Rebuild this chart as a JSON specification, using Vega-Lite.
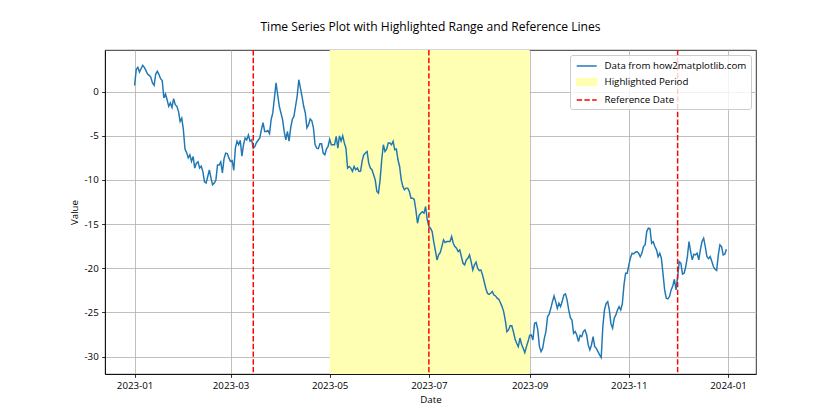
{
  "$schema": "https://vega.github.io/schema/vega-lite/v6.json",
  "width": 651,
  "height": 324,
  "autosize": {"type": "none"},
  "padding": {"left": 105, "top": 50, "right": 84, "bottom": 46},
  "background": "white",
  "title": {"text": "Time Series Plot with Highlighted Range and Reference Lines", "fontSize": 12.1, "font": "Open Sans", "fontWeight": "normal", "color": "black", "offset": 6, "anchor": "middle", "frame": "group", "baseline": "alphabetic"},
  "config": {
    "font": "Open Sans",
    "view": {"stroke": "black", "strokeWidth": 0.8},
    "axis": {"zindex": 1, "domainColor": "black", "domainWidth": 0.8, "gridColor": "#b0b0b0", "gridWidth": 0.8, "gridOpacity": 1, "tickColor": "black", "tickWidth": 0.8, "tickSize": 3.4, "labelFont": "Open Sans", "labelFontSize": 9.72, "labelColor": "black", "labelPadding": 3.4, "titleFont": "Open Sans", "titleFontSize": 9.72, "titleFontWeight": "normal", "titleColor": "black", "titlePadding": 4, "labelFlush": false, "labelOverlap": false},
    "legend": {
      "orient": "top-right", "offset": 5, "padding": 4, "rowPadding": 4, "symbolSize": 144, "labelOffset": 16.5,
      "labelFont": "Open Sans", "labelFontSize": 9.72, "labelColor": "black",
      "strokeColor": "#cccccc", "fillColor": "rgba(255,255,255,0.8)", "cornerRadius": 2.5,
      "symbolType": "M-0.72,0H2.61", "symbolOpacity": 1, "symbolStrokeWidth": 1.46
    }
  },
  "layer": [
    {
      "data": {"values": [{"start": "2023-05-01", "end": "2023-09-01", "series": "Highlighted Period"}], "format": {"parse": {"start": "date:'%Y-%m-%d'", "end": "date:'%Y-%m-%d'"}}},
      "mark": {"type": "rect"},
      "encoding": {
        "x": {"field": "start", "type": "temporal", "title": "Date",
          "scale": {"domain": [{"year": 2022, "month": 12, "date": 13, "hours": 19, "minutes": 12}, {"year": 2024, "month": 1, "date": 18, "hours": 4, "minutes": 48}]},
          "axis": {"values": [{"year": 2023, "month": 1, "date": 1}, {"year": 2023, "month": 3, "date": 1}, {"year": 2023, "month": 5, "date": 1}, {"year": 2023, "month": 7, "date": 1}, {"year": 2023, "month": 9, "date": 1}, {"year": 2023, "month": 11, "date": 1}, {"year": 2024, "month": 1, "date": 1}], "format": "%Y-%m", "labelAngle": 0}},
        "x2": {"field": "end"},
        "color": {"field": "series", "type": "nominal",
          "scale": {"domain": ["Data from how2matplotlib.com", "Highlighted Period", "Reference Date"], "range": ["#1f77b4", "#ffffb3", "#ff0000"]},
          "legend": {"title": null}}
      }
    },
    {
      "data": {"values": [
{"date":"2023-01-01","value":0.7},{"date":"2023-01-02","value":2.5},{"date":"2023-01-03","value":2.76},{"date":"2023-01-04","value":2.23},{"date":"2023-01-06","value":2.99},{"date":"2023-01-07","value":2.76},{"date":"2023-01-08","value":2.38},{"date":"2023-01-09","value":2.0},{"date":"2023-01-10","value":1.85},{"date":"2023-01-11","value":1.62},{"date":"2023-01-12","value":0.98},{"date":"2023-01-13","value":0.72},{"date":"2023-01-14","value":2.0},{"date":"2023-01-15","value":2.3},{"date":"2023-01-16","value":1.93},{"date":"2023-01-17","value":1.47},{"date":"2023-01-18","value":1.25},{"date":"2023-01-19","value":-0.72},{"date":"2023-01-20","value":-0.26},{"date":"2023-01-21","value":-0.91},{"date":"2023-01-22","value":-1.66},{"date":"2023-01-23","value":-1.28},{"date":"2023-01-24","value":-1.78},{"date":"2023-01-25","value":-0.79},{"date":"2023-01-26","value":-1.47},{"date":"2023-01-27","value":-1.66},{"date":"2023-01-28","value":-2.23},{"date":"2023-01-29","value":-3.36},{"date":"2023-01-30","value":-3.0},{"date":"2023-01-31","value":-4.3},
{"date":"2023-02-01","value":-6.5},{"date":"2023-02-02","value":-6.9},{"date":"2023-02-03","value":-7.5},{"date":"2023-02-04","value":-7.15},{"date":"2023-02-05","value":-7.9},{"date":"2023-02-06","value":-7.35},{"date":"2023-02-07","value":-8.65},{"date":"2023-02-08","value":-8.1},{"date":"2023-02-09","value":-7.95},{"date":"2023-02-10","value":-8.65},{"date":"2023-02-11","value":-8.45},{"date":"2023-02-12","value":-9.05},{"date":"2023-02-13","value":-10.2},{"date":"2023-02-14","value":-10.35},{"date":"2023-02-15","value":-9.6},{"date":"2023-02-16","value":-8.85},{"date":"2023-02-17","value":-9.8},{"date":"2023-02-18","value":-10.55},{"date":"2023-02-19","value":-10.35},{"date":"2023-02-20","value":-10.0},{"date":"2023-02-21","value":-8.3},{"date":"2023-02-22","value":-8.3},{"date":"2023-02-23","value":-7.95},{"date":"2023-02-24","value":-9.2},{"date":"2023-02-25","value":-7.6},{"date":"2023-02-26","value":-6.95},{"date":"2023-02-27","value":-7.0},{"date":"2023-02-28","value":-7.5},
{"date":"2023-03-01","value":-7.9},{"date":"2023-03-02","value":-7.8},{"date":"2023-03-03","value":-8.9},{"date":"2023-03-04","value":-6.4},{"date":"2023-03-05","value":-5.6},{"date":"2023-03-06","value":-6.0},{"date":"2023-03-07","value":-5.5},{"date":"2023-03-08","value":-7.3},{"date":"2023-03-09","value":-6.0},{"date":"2023-03-10","value":-5.25},{"date":"2023-03-11","value":-5.45},{"date":"2023-03-12","value":-4.9},{"date":"2023-03-13","value":-5.6},{"date":"2023-03-14","value":-5.45},{"date":"2023-03-15","value":-6.4},{"date":"2023-03-16","value":-6.2},{"date":"2023-03-17","value":-5.75},{"date":"2023-03-18","value":-5.5},{"date":"2023-03-19","value":-5.25},{"date":"2023-03-20","value":-4.3},{"date":"2023-03-21","value":-3.5},{"date":"2023-03-22","value":-4.5},{"date":"2023-03-23","value":-4.5},{"date":"2023-03-24","value":-4.4},{"date":"2023-03-25","value":-4.75},{"date":"2023-03-26","value":-3.15},{"date":"2023-03-27","value":-2.4},{"date":"2023-03-28","value":-0.7},{"date":"2023-03-29","value":1.0},{"date":"2023-03-30","value":-0.35},{"date":"2023-03-31","value":-1.65},
{"date":"2023-04-01","value":-2.4},{"date":"2023-04-02","value":-3.15},{"date":"2023-04-03","value":-4.5},{"date":"2023-04-04","value":-5.45},{"date":"2023-04-05","value":-4.5},{"date":"2023-04-06","value":-5.6},{"date":"2023-04-07","value":-4.1},{"date":"2023-04-08","value":-3.15},{"date":"2023-04-09","value":-2.8},{"date":"2023-04-10","value":-1.65},{"date":"2023-04-11","value":-0.5},{"date":"2023-04-12","value":1.35},{"date":"2023-04-13","value":0.4},{"date":"2023-04-14","value":-0.55},{"date":"2023-04-15","value":-1.65},{"date":"2023-04-16","value":-2.4},{"date":"2023-04-17","value":-4.1},{"date":"2023-04-18","value":-3.75},{"date":"2023-04-19","value":-3.1},{"date":"2023-04-20","value":-3.3},{"date":"2023-04-21","value":-4.1},{"date":"2023-04-22","value":-6.0},{"date":"2023-04-23","value":-6.4},{"date":"2023-04-24","value":-6.45},{"date":"2023-04-25","value":-5.9},{"date":"2023-04-26","value":-5.9},{"date":"2023-04-27","value":-6.95},{"date":"2023-04-28","value":-7.14},{"date":"2023-04-29","value":-6.5},{"date":"2023-04-30","value":-6.2},
{"date":"2023-05-01","value":-5.4},{"date":"2023-05-02","value":-6.0},{"date":"2023-05-03","value":-6.0},{"date":"2023-05-04","value":-6.0},{"date":"2023-05-05","value":-5.06},{"date":"2023-05-06","value":-6.39},{"date":"2023-05-07","value":-5.0},{"date":"2023-05-08","value":-5.6},{"date":"2023-05-09","value":-5.0},{"date":"2023-05-10","value":-5.8},{"date":"2023-05-11","value":-6.4},{"date":"2023-05-12","value":-8.65},{"date":"2023-05-13","value":-8.47},{"date":"2023-05-14","value":-8.65},{"date":"2023-05-15","value":-9.03},{"date":"2023-05-16","value":-8.47},{"date":"2023-05-17","value":-8.84},{"date":"2023-05-18","value":-8.65},{"date":"2023-05-19","value":-9.03},{"date":"2023-05-20","value":-9.0},{"date":"2023-05-21","value":-7.8},{"date":"2023-05-22","value":-7.14},{"date":"2023-05-23","value":-6.95},{"date":"2023-05-24","value":-6.77},{"date":"2023-05-25","value":-8.09},{"date":"2023-05-26","value":-8.65},{"date":"2023-05-27","value":-8.84},{"date":"2023-05-28","value":-9.41},{"date":"2023-05-29","value":-9.98},{"date":"2023-05-30","value":-11.3},{"date":"2023-05-31","value":-11.49},
{"date":"2023-06-01","value":-9.98},{"date":"2023-06-02","value":-7.71},{"date":"2023-06-03","value":-6.01},{"date":"2023-06-04","value":-6.77},{"date":"2023-06-05","value":-6.5},{"date":"2023-06-06","value":-5.82},{"date":"2023-06-07","value":-5.82},{"date":"2023-06-08","value":-6.01},{"date":"2023-06-09","value":-5.63},{"date":"2023-06-10","value":-6.58},{"date":"2023-06-11","value":-6.5},{"date":"2023-06-12","value":-7.71},{"date":"2023-06-13","value":-8.47},{"date":"2023-06-14","value":-9.98},{"date":"2023-06-15","value":-10.73},{"date":"2023-06-16","value":-11.11},{"date":"2023-06-17","value":-10.92},{"date":"2023-06-18","value":-10.92},{"date":"2023-06-19","value":-11.3},{"date":"2023-06-20","value":-12.06},{"date":"2023-06-21","value":-12.06},{"date":"2023-06-22","value":-12.2},{"date":"2023-06-23","value":-13.4},{"date":"2023-06-24","value":-14.9},{"date":"2023-06-25","value":-14.0},{"date":"2023-06-26","value":-13.76},{"date":"2023-06-27","value":-13.6},{"date":"2023-06-28","value":-13.76},{"date":"2023-06-29","value":-13.0},{"date":"2023-06-30","value":-14.5},
{"date":"2023-07-01","value":-15.27},{"date":"2023-07-02","value":-15.46},{"date":"2023-07-03","value":-15.84},{"date":"2023-07-04","value":-17.0},{"date":"2023-07-05","value":-18.0},{"date":"2023-07-06","value":-19.05},{"date":"2023-07-07","value":-18.48},{"date":"2023-07-08","value":-18.2},{"date":"2023-07-09","value":-17.54},{"date":"2023-07-10","value":-16.79},{"date":"2023-07-11","value":-17.09},{"date":"2023-07-12","value":-16.97},{"date":"2023-07-13","value":-16.97},{"date":"2023-07-14","value":-16.97},{"date":"2023-07-15","value":-16.4},{"date":"2023-07-16","value":-17.16},{"date":"2023-07-17","value":-17.54},{"date":"2023-07-18","value":-17.73},{"date":"2023-07-19","value":-18.11},{"date":"2023-07-20","value":-17.92},{"date":"2023-07-21","value":-18.67},{"date":"2023-07-22","value":-19.43},{"date":"2023-07-23","value":-19.62},{"date":"2023-07-24","value":-19.05},{"date":"2023-07-25","value":-18.86},{"date":"2023-07-26","value":-18.48},{"date":"2023-07-27","value":-19.24},{"date":"2023-07-28","value":-20.18},{"date":"2023-07-29","value":-19.62},{"date":"2023-07-30","value":-19.3},{"date":"2023-07-31","value":-20.0},
{"date":"2023-08-01","value":-20.26},{"date":"2023-08-02","value":-20.18},{"date":"2023-08-03","value":-20.75},{"date":"2023-08-04","value":-21.5},{"date":"2023-08-05","value":-22.26},{"date":"2023-08-06","value":-22.83},{"date":"2023-08-07","value":-22.95},{"date":"2023-08-08","value":-22.83},{"date":"2023-08-09","value":-22.64},{"date":"2023-08-10","value":-23.02},{"date":"2023-08-11","value":-23.13},{"date":"2023-08-12","value":-23.39},{"date":"2023-08-13","value":-23.51},{"date":"2023-08-14","value":-23.9},{"date":"2023-08-15","value":-24.34},{"date":"2023-08-16","value":-24.9},{"date":"2023-08-17","value":-25.9},{"date":"2023-08-18","value":-27.17},{"date":"2023-08-19","value":-26.98},{"date":"2023-08-20","value":-26.5},{"date":"2023-08-21","value":-26.5},{"date":"2023-08-22","value":-27.2},{"date":"2023-08-23","value":-28.0},{"date":"2023-08-24","value":-28.49},{"date":"2023-08-25","value":-28.87},{"date":"2023-08-26","value":-27.9},{"date":"2023-08-27","value":-28.6},{"date":"2023-08-28","value":-29.06},{"date":"2023-08-29","value":-29.55},{"date":"2023-08-30","value":-28.87},{"date":"2023-08-31","value":-28.3},
{"date":"2023-09-01","value":-27.6},{"date":"2023-09-02","value":-27.55},{"date":"2023-09-03","value":-28.12},{"date":"2023-09-04","value":-26.23},{"date":"2023-09-05","value":-26.15},{"date":"2023-09-06","value":-26.98},{"date":"2023-09-07","value":-28.87},{"date":"2023-09-08","value":-29.43},{"date":"2023-09-09","value":-29.06},{"date":"2023-09-10","value":-27.93},{"date":"2023-09-11","value":-27.17},{"date":"2023-09-12","value":-25.47},{"date":"2023-09-13","value":-25.2},{"date":"2023-09-14","value":-24.53},{"date":"2023-09-15","value":-23.77},{"date":"2023-09-16","value":-23.13},{"date":"2023-09-17","value":-23.77},{"date":"2023-09-18","value":-24.53},{"date":"2023-09-19","value":-23.96},{"date":"2023-09-20","value":-24.34},{"date":"2023-09-21","value":-23.77},{"date":"2023-09-22","value":-23.02},{"date":"2023-09-23","value":-22.9},{"date":"2023-09-24","value":-23.58},{"date":"2023-09-25","value":-24.72},{"date":"2023-09-26","value":-25.6},{"date":"2023-09-27","value":-25.85},{"date":"2023-09-28","value":-27.36},{"date":"2023-09-29","value":-27.17},{"date":"2023-09-30","value":-27.55},
{"date":"2023-10-01","value":-28.3},{"date":"2023-10-02","value":-27.6},{"date":"2023-10-03","value":-27.74},{"date":"2023-10-04","value":-27.17},{"date":"2023-10-05","value":-26.98},{"date":"2023-10-06","value":-27.5},{"date":"2023-10-07","value":-28.68},{"date":"2023-10-08","value":-29.25},{"date":"2023-10-09","value":-28.68},{"date":"2023-10-10","value":-27.74},{"date":"2023-10-11","value":-28.87},{"date":"2023-10-12","value":-29.06},{"date":"2023-10-13","value":-29.43},{"date":"2023-10-14","value":-29.81},{"date":"2023-10-15","value":-30.1},{"date":"2023-10-16","value":-26.6},{"date":"2023-10-17","value":-24.72},{"date":"2023-10-18","value":-24.0},{"date":"2023-10-19","value":-23.77},{"date":"2023-10-20","value":-24.72},{"date":"2023-10-21","value":-26.3},{"date":"2023-10-22","value":-26.79},{"date":"2023-10-23","value":-25.66},{"date":"2023-10-24","value":-25.28},{"date":"2023-10-25","value":-24.72},{"date":"2023-10-26","value":-24.34},{"date":"2023-10-27","value":-24.72},{"date":"2023-10-28","value":-24.0},{"date":"2023-10-29","value":-21.88},{"date":"2023-10-30","value":-20.56},{"date":"2023-10-31","value":-20.56},
{"date":"2023-11-01","value":-19.62},{"date":"2023-11-02","value":-18.8},{"date":"2023-11-03","value":-18.29},{"date":"2023-11-04","value":-18.37},{"date":"2023-11-05","value":-18.18},{"date":"2023-11-06","value":-18.1},{"date":"2023-11-07","value":-18.29},{"date":"2023-11-08","value":-18.7},{"date":"2023-11-09","value":-18.29},{"date":"2023-11-10","value":-17.54},{"date":"2023-11-11","value":-17.35},{"date":"2023-11-12","value":-15.84},{"date":"2023-11-13","value":-15.46},{"date":"2023-11-14","value":-15.5},{"date":"2023-11-15","value":-17.16},{"date":"2023-11-16","value":-17.0},{"date":"2023-11-17","value":-17.54},{"date":"2023-11-18","value":-17.91},{"date":"2023-11-19","value":-18.7},{"date":"2023-11-20","value":-18.29},{"date":"2023-11-21","value":-18.86},{"date":"2023-11-22","value":-20.6},{"date":"2023-11-23","value":-22.45},{"date":"2023-11-24","value":-23.39},{"date":"2023-11-25","value":-23.47},{"date":"2023-11-26","value":-23.2},{"date":"2023-11-27","value":-22.45},{"date":"2023-11-28","value":-22.0},{"date":"2023-11-29","value":-21.24},{"date":"2023-11-30","value":-22.45},
{"date":"2023-12-01","value":-20.94},{"date":"2023-12-02","value":-19.24},{"date":"2023-12-03","value":-19.43},{"date":"2023-12-04","value":-20.65},{"date":"2023-12-05","value":-20.56},{"date":"2023-12-06","value":-19.8},{"date":"2023-12-07","value":-18.67},{"date":"2023-12-08","value":-16.97},{"date":"2023-12-09","value":-18.1},{"date":"2023-12-10","value":-19.05},{"date":"2023-12-11","value":-18.4},{"date":"2023-12-12","value":-18.48},{"date":"2023-12-13","value":-18.29},{"date":"2023-12-14","value":-19.05},{"date":"2023-12-15","value":-17.9},{"date":"2023-12-16","value":-16.97},{"date":"2023-12-17","value":-16.59},{"date":"2023-12-18","value":-17.54},{"date":"2023-12-19","value":-18.67},{"date":"2023-12-20","value":-18.9},{"date":"2023-12-21","value":-18.67},{"date":"2023-12-22","value":-19.2},{"date":"2023-12-23","value":-19.8},{"date":"2023-12-24","value":-20.11},{"date":"2023-12-25","value":-20.25},{"date":"2023-12-26","value":-18.5},{"date":"2023-12-27","value":-17.35},{"date":"2023-12-28","value":-17.54},{"date":"2023-12-29","value":-18.48},{"date":"2023-12-30","value":-18.4},{"date":"2023-12-31","value":-17.84}
      ], "format": {"parse": {"date": "date:'%Y-%m-%d'"}}},
      "mark": {"type": "line", "strokeWidth": 1.46, "clip": true},
      "encoding": {
        "x": {"field": "date", "type": "temporal"},
        "y": {"field": "value", "type": "quantitative", "title": "Value",
          "scale": {"domain": [-31.97, 4.72], "nice": false, "zero": false},
          "axis": {"values": [-30, -25, -20, -15, -10, -5, 0], "labelExpr": "replace(datum.label, '\u2212', '-')"}},
        "color": {"datum": "Data from how2matplotlib.com", "type": "nominal",
          "legend": {"title": null,
            "encode": {"symbols": {"update": {
              "shape": {"signal": "datum.value === 'Highlighted Period' ? 'M-0.72,-0.57H2.61V0.57H-0.72Z' : 'M-0.72,0H2.61'"},
              "strokeDash": {"signal": "datum.value === 'Reference Date' ? [5.4, 2.33] : []"},
              "opacity": {"value": 1}
            }}}}}
      }
    },
    {
      "data": {"values": [{"date": "2023-03-15", "series": "Reference Date"}, {"date": "2023-07-01", "series": "Reference Date"}, {"date": "2023-12-01", "series": "Reference Date"}], "format": {"parse": {"date": "date:'%Y-%m-%d'"}}},
      "mark": {"type": "rule", "strokeWidth": 1.46, "strokeDash": [5.4, 2.33]},
      "encoding": {
        "x": {"field": "date", "type": "temporal"},
        "color": {"field": "series", "type": "nominal", "legend": {"title": null}}
      }
    }
  ]
}
